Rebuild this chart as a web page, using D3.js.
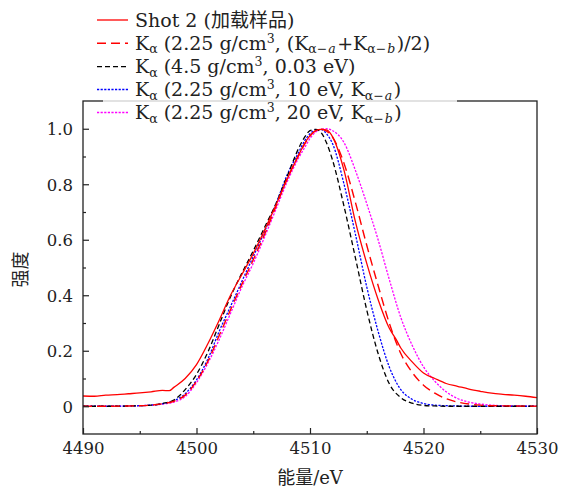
<!DOCTYPE html>
<html>
<head>
<meta charset="utf-8">
<script src="https://cdn.jsdelivr.net/npm/d3@7"></script>
<style>
  body { margin: 0; background: #fff; }
  svg { display: block; }
  text { font-family: "DejaVu Serif", "Noto Sans CJK SC", serif; fill: #222; }
</style>
</head>
<body>
<svg id="chart" width="565" height="488"></svg>
<script>
// ---------------- data ----------------
const energyModel = [4490, 4492, 4494, 4495, 4496, 4497, 4498, 4499, 4500, 4501, 4502, 4503, 4504, 4505, 4506, 4507, 4508, 4509, 4509.5, 4510, 4510.5, 4511, 4511.5, 4512, 4513, 4514, 4515, 4516, 4517, 4518, 4519, 4520, 4521, 4522, 4523, 4524, 4525, 4526, 4528, 4530];

const kaAverage = [0, 0, 0.001, 0.002, 0.004, 0.009, 0.018, 0.04, 0.09, 0.162, 0.255, 0.348, 0.44, 0.528, 0.62, 0.72, 0.822, 0.905, 0.943, 0.974, 0.993, 0.998, 0.99, 0.969, 0.875, 0.735, 0.58, 0.435, 0.298, 0.19, 0.122, 0.076, 0.047, 0.027, 0.015, 0.008, 0.004, 0.002, 0.001, 0];

const ka45 = [0, 0, 0.001, 0.002, 0.004, 0.01, 0.022, 0.06, 0.115, 0.195, 0.295, 0.395, 0.48, 0.56, 0.645, 0.73, 0.83, 0.93, 0.968, 0.993, 0.998, 0.985, 0.945, 0.885, 0.72, 0.535, 0.347, 0.19, 0.08, 0.031, 0.011, 0.003, 0.001, 0, 0, 0, 0, 0, 0, 0];

const ka10 = [0, 0, 0.001, 0.002, 0.004, 0.009, 0.02, 0.045, 0.095, 0.17, 0.27, 0.36, 0.45, 0.54, 0.63, 0.73, 0.835, 0.915, 0.955, 0.982, 0.997, 0.997, 0.98, 0.945, 0.8, 0.62, 0.43, 0.27, 0.14, 0.06, 0.025, 0.01, 0.004, 0.002, 0.001, 0, 0, 0, 0, 0];

const ka20 = [0, 0, 0.001, 0.002, 0.004, 0.008, 0.015, 0.035, 0.085, 0.155, 0.24, 0.335, 0.43, 0.515, 0.61, 0.71, 0.81, 0.895, 0.93, 0.965, 0.988, 0.998, 1.0, 0.993, 0.95, 0.85, 0.73, 0.6, 0.455, 0.32, 0.22, 0.142, 0.09, 0.052, 0.028, 0.015, 0.008, 0.004, 0.001, 0];

const energyShot = [4490, 4491, 4492, 4493, 4494, 4495, 4496, 4497, 4497.6, 4498, 4499, 4500, 4501, 4502, 4503, 4504, 4505, 4506, 4507, 4508, 4509, 4509.5, 4510, 4510.5, 4511, 4511.5, 4512, 4513, 4514, 4515, 4516, 4517, 4517.6, 4518, 4519, 4520, 4521, 4522, 4523, 4524, 4525, 4526, 4527, 4528, 4529, 4530];
const shot2 = [0.037, 0.036, 0.040, 0.042, 0.045, 0.048, 0.052, 0.057, 0.056, 0.068, 0.10, 0.15, 0.225, 0.31, 0.40, 0.475, 0.55, 0.635, 0.725, 0.82, 0.905, 0.945, 0.975, 0.993, 0.998, 0.995, 0.97, 0.85, 0.665, 0.515, 0.385, 0.28, 0.24, 0.21, 0.16, 0.12, 0.10, 0.082, 0.072, 0.062, 0.054, 0.047, 0.043, 0.040, 0.036, 0.031];

const xTicks = [4490, 4500, 4510, 4520, 4530];
const xTickLabels = ["4490", "4500", "4510", "4520", "4530"];
const yTicks = [0, 0.2, 0.4, 0.6, 0.8, 1.0];
const yTickLabels = ["0", "0.2", "0.4", "0.6", "0.8", "1.0"];
const xLabel = "能量/eV";
const yLabel = "强度";

// ---------------- layout ----------------
const FONT = '"DejaVu Serif", "Noto Sans CJK SC", serif';
const svg = d3.select("#chart");
const L = 83, R = 537, T = 101, B = 434;
const x = d3.scaleLinear().domain([4490, 4530]).range([L, R]);
const y = d3.scaleLinear().domain([-0.1, 1.1]).range([B, T]);
const FS = 19, TFS = 16.5, SFS = 12.5;

svg.append("defs").append("clipPath").attr("id", "clip")
  .append("rect").attr("x", L).attr("y", T).attr("width", R - L).attr("height", B - T);

const DOT = "2.2,1.4";
const series = [
  { e: energyModel, v: ka20, color: "#ff00ff", dash: DOT, w: 1.3 },
  { e: energyModel, v: ka10, color: "#0000ff", dash: DOT, w: 1.3 },
  { e: energyModel, v: ka45, color: "#000000", dash: "5,3", w: 1.3 },
  { e: energyModel, v: kaAverage, color: "#ff0000", dash: "9,5", w: 1.4 },
  { e: energyShot, v: shot2, color: "#ff0000", dash: null, w: 1.3 }
];
const line = d3.line().x(d => x(d[0])).y(d => y(d[1])).curve(d3.curveMonotoneX);
const g = svg.append("g").attr("clip-path", "url(#clip)");
series.forEach(s => {
  g.append("path")
    .attr("d", line(s.e.map((e, i) => [e, s.v[i]])))
    .attr("fill", "none")
    .attr("stroke", s.color)
    .attr("stroke-width", s.w)
    .attr("stroke-dasharray", s.dash);
});

svg.append("rect").attr("x", L).attr("y", T).attr("width", R - L).attr("height", B - T)
  .attr("fill", "none").attr("stroke", "#222").attr("stroke-width", 1.3);

const xAxis = d3.axisBottom(x).tickValues(xTicks).tickFormat((d, i) => xTickLabels[i])
  .tickSizeInner(-6).tickSizeOuter(0).tickPadding(8);
const xa = svg.append("g").attr("transform", `translate(0,${B})`).call(xAxis);
const xMinor = d3.axisBottom(x).tickValues([4495, 4505, 4515, 4525]).tickFormat("").tickSizeInner(-3).tickSizeOuter(0);
svg.append("g").attr("transform", `translate(0,${B})`).call(xMinor);

const yAxis = d3.axisLeft(y).tickValues(yTicks).tickFormat((d, i) => yTickLabels[i])
  .tickSizeInner(-6).tickSizeOuter(0).tickPadding(10);
const ya = svg.append("g").attr("transform", `translate(${L},0)`).call(yAxis);
const yMinor = d3.axisLeft(y).tickValues([0.1, 0.3, 0.5, 0.7, 0.9]).tickFormat("").tickSizeInner(-3).tickSizeOuter(0);
svg.append("g").attr("transform", `translate(${L},0)`).call(yMinor);

svg.selectAll("g").attr("font-family", null);
svg.selectAll(".domain").attr("stroke", "none");
svg.selectAll(".tick line").attr("stroke", "#222").attr("stroke-width", 1.2);
svg.selectAll(".tick text").style("font-family", FONT).style("font-size", TFS + "px").attr("fill", "#222");
ya.selectAll(".tick text").attr("dy", "0.35em");
xa.selectAll(".tick text").attr("dy", "0.71em");

svg.append("text").attr("x", (L + R) / 2).attr("y", 484).attr("text-anchor", "middle")
  .style("font-family", FONT).style("font-size", "18px").text(xLabel);
svg.append("text").attr("transform", `translate(27,${(T + B) / 2 + 2}) rotate(-90)`)
  .attr("text-anchor", "middle").style("font-family", FONT).style("font-size", "18px").text(yLabel);

svg.append("rect").attr("x", 103).attr("y", 2).attr("width", 354).attr("height", 118)
  .attr("fill", "#fff").attr("fill-opacity", 0.8);

const K = [{ t: "K" }, { t: "α", s: "sub" }];
const legendItems = [
  { color: "#ff0000", dash: null, w: 1.3, parts: [{ t: "Shot 2 (加载样品)" }] },
  { color: "#ff0000", dash: "9,5", w: 1.4, parts: [...K, { t: " (2.25 g/cm" }, { t: "3", s: "sup" }, { t: ", (K" }, { t: "α−", s: "sub" }, { t: "a", s: "sub", it: true }, { t: "+K", gap: true }, { t: "α−", s: "sub" }, { t: "b", s: "sub", it: true }, { t: ")/2)", gap: true }] },
  { color: "#000000", dash: "5,3", w: 1.3, parts: [...K, { t: " (4.5 g/cm" }, { t: "3", s: "sup" }, { t: ", 0.03 eV)" }] },
  { color: "#0000ff", dash: DOT, w: 1.3, parts: [...K, { t: " (2.25 g/cm" }, { t: "3", s: "sup" }, { t: ", 10 eV, K" }, { t: "α−", s: "sub" }, { t: "a", s: "sub", it: true }, { t: ")", gap: true }] },
  { color: "#ff00ff", dash: DOT, w: 1.3, parts: [...K, { t: " (2.25 g/cm" }, { t: "3", s: "sup" }, { t: ", 20 eV, K" }, { t: "α−", s: "sub" }, { t: "b", s: "sub", it: true }, { t: ")", gap: true }] }
];
const rowY = [20, 43.3, 66.7, 89.5, 112.5];
legendItems.forEach((it, i) => {
  const cy = rowY[i];
  svg.append("line").attr("x1", 97).attr("x2", 128).attr("y1", cy).attr("y2", cy)
    .attr("stroke", it.color).attr("stroke-width", it.w).attr("stroke-dasharray", it.dash);
  const txt = svg.append("text").attr("x", 135).attr("y", cy + 6.5)
    .style("font-family", FONT).style("font-size", FS + "px");
  let cur = 0;
  it.parts.forEach(p => {
    let target = 0, size = FS;
    if (p.s === "sub") { target = 3.5; size = SFS; }
    if (p.s === "sup") { target = -7; size = SFS; }
    const ts = txt.append("tspan").attr("dy", target - cur).style("font-size", size + "px").text(p.t);
    if (p.it) ts.style("font-style", "italic").attr("dx", 1);
    if (p.gap) ts.attr("dx", 1.5);
    cur = target;
  });
});
</script>
</body>
</html>
